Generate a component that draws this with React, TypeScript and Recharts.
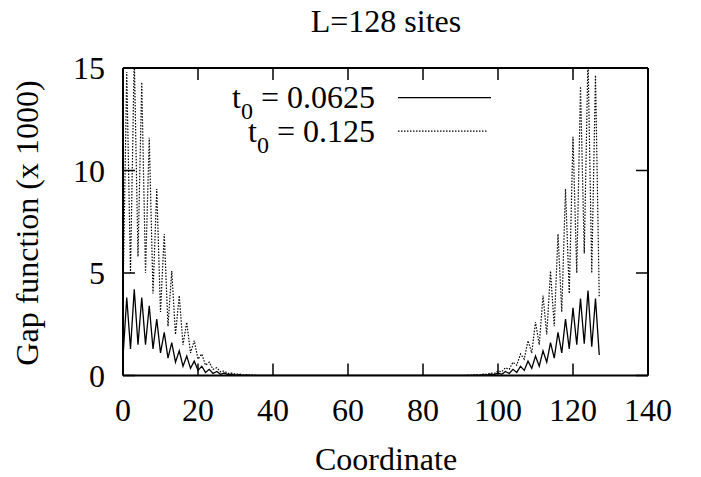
import { LineChart, Line, XAxis, YAxis } from "recharts"

// gap function (x 1000) per site, site index = coordinate 0..127
const gapT0625 = [
  0.9, 3.8, 1.3, 4.2, 1.5, 3.8, 1.5, 3.4, 1.3, 2.75, 1.1, 2.1, 0.85, 1.6, 0.65, 1.2,
  0.45, 0.95, 0.35, 0.7, 0.25, 0.45, 0.15, 0.3, 0.1, 0.2, 0.06, 0.12, 0.04, 0.07, 0.02, 0.04,
  0.01, 0.02, 0.01, 0.01,
  0, 0, 0, 0, 0, 0, 0, 0,
  0, 0, 0, 0, 0, 0, 0, 0,
  0, 0, 0, 0, 0, 0, 0, 0,
  0, 0, 0, 0, 0, 0, 0, 0,
  0, 0, 0, 0, 0, 0, 0, 0,
  0, 0, 0, 0, 0, 0, 0, 0,
  0, 0, 0, 0, 0, 0, 0, 0,
  0.01, 0.01, 0.02, 0.01, 0.04, 0.02, 0.07, 0.04, 0.12, 0.06, 0.2, 0.1, 0.3, 0.15, 0.45, 0.25,
  0.7, 0.35, 0.95, 0.45, 1.2, 0.65, 1.6, 0.85, 2.1, 1.1, 2.75, 1.3, 3.3, 1.5, 3.75, 1.55,
  4.15, 1.4, 3.75, 1.0,
]

const gapT125 = [
  3.8, 14.8, 5.0, 15.6, 5.8, 14.3, 5.0, 11.6, 4.0, 9.1, 3.1, 6.9, 2.4, 5.1, 2.0, 3.9,
  1.5, 2.6, 1.1, 1.7, 0.8, 1.05, 0.5, 0.65, 0.3, 0.38, 0.18, 0.22, 0.1, 0.12, 0.06, 0.07,
  0.03, 0.04, 0.02, 0.02,
  0, 0, 0, 0, 0, 0, 0, 0,
  0, 0, 0, 0, 0, 0, 0, 0,
  0, 0, 0, 0, 0, 0, 0, 0,
  0, 0, 0, 0, 0, 0, 0, 0,
  0, 0, 0, 0, 0, 0, 0, 0,
  0, 0, 0, 0, 0, 0, 0, 0,
  0, 0, 0, 0, 0, 0, 0, 0,
  0.02, 0.02, 0.04, 0.03, 0.07, 0.06, 0.12, 0.1, 0.22, 0.18, 0.38, 0.3, 0.65, 0.5, 1.05, 0.8,
  1.7, 1.1, 2.6, 1.5, 3.9, 2.0, 5.1, 2.4, 6.9, 3.1, 9.1, 4.0, 11.65, 5.0, 14.1, 5.95,
  15.6, 5.0, 14.65, 3.8,
]

const xTicks = [0, 20, 40, 60, 80, 100, 120, 140]
const yTicks = [0, 5, 10, 15]
const seriesLabels = ["0.0625", "0.125"]

const data = gapT0625.map((v, i) => ({ x: i, a: v, b: gapT125[i] }))

const font = "Liberation Serif, Times New Roman, serif"

const XTick = (p: any) => (
  <text x={p.x} y={p.y} textAnchor="middle" style={{ fontSize: 32, fontFamily: font }} fill="#000">
    {p.payload.value}
  </text>
)
const YTick = (p: any) => (
  <text x={p.x} y={p.y + 11} textAnchor="end" style={{ fontSize: 32, fontFamily: font }} fill="#000">
    {p.payload.value}
  </text>
)
// mirror axes: tick marks only
const NoTick = () => <g />

export default function App() {
  const axisLine = { stroke: "#000", strokeWidth: 2 }
  const tickLine = { stroke: "#000", strokeWidth: 1.5 }
  return (
    <div style={{ position: "absolute", left: 0, top: 0, width: 701, height: 477, background: "#fff" }}>
      <LineChart width={701} height={477} data={data} margin={{ top: 67, right: 52, bottom: 0, left: 0 }}>
        <XAxis dataKey="x" type="number" domain={[0, 140]} ticks={xTicks} height={101.5}
          axisLine={axisLine} tickLine={tickLine} tickSize={-12} tickMargin={57.5} tick={XTick} />
        <XAxis xAxisId="top" dataKey="x" orientation="top" type="number" domain={[0, 140]} ticks={xTicks} height={1}
          axisLine={axisLine} tickLine={tickLine} tickSize={-12} tick={NoTick} />
        <YAxis type="number" domain={[0, 15]} ticks={yTicks} width={123} allowDataOverflow
          axisLine={axisLine} tickLine={tickLine} tickSize={-12} tickMargin={30} tick={YTick} />
        <YAxis yAxisId="right" orientation="right" type="number" domain={[0, 15]} ticks={yTicks} width={1} allowDataOverflow
          axisLine={axisLine} tickLine={tickLine} tickSize={-12} tick={NoTick} />
        <Line type="linear" dataKey="a" stroke="#000" strokeWidth={1.3} dot={false} isAnimationActive={false} />
        <Line type="linear" dataKey="b" xAxisId="top" yAxisId="right" stroke="#000" strokeWidth={1.2}
          strokeDasharray="1.5 1.5" dot={false} isAnimationActive={false} />
      </LineChart>
      <svg width={701} height={477} style={{ position: "absolute", left: 0, top: 0, pointerEvents: "none", fontFamily: font }}
        fill="#000">
        <text x={386} y={32} textAnchor="middle" fontSize={32}>L=128 sites</text>
        <text x={386} y={470} textAnchor="middle" fontSize={32}>Coordinate</text>
        <text transform="translate(38,223) rotate(-90)" textAnchor="middle" fontSize={32}>Gap function (x 1000)</text>
        {seriesLabels.map((s, i) => (
          <g key={s}>
            <text x={375} y={108 + i * 33.5} textAnchor="end" fontSize={32}>
              t<tspan dy={11} fontSize={24}>0</tspan><tspan dy={-11}> = {s}</tspan>
            </text>
            <line x1={398} x2={i === 0 ? 491 : 488} y1={97.7 + i * 33.5} y2={97.7 + i * 33.5}
              stroke="#000" strokeWidth={1.2} strokeDasharray={i === 0 ? undefined : "1.5 1.5"} />
          </g>
        ))}
      </svg>
    </div>
  )
}
